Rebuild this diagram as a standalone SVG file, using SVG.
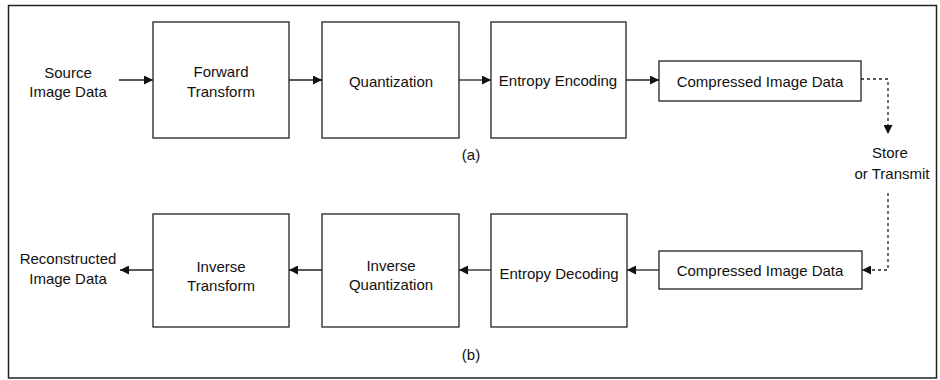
<svg xmlns="http://www.w3.org/2000/svg" width="940" height="380" viewBox="0 0 940 380">
<defs>
<marker id="ah" viewBox="0 0 10 10" refX="10" refY="5" markerWidth="9" markerHeight="9" markerUnits="userSpaceOnUse" orient="auto">
<path d="M0,0 L10,5 L0,10 z" fill="#111"/>
</marker>
<style>
.box{fill:#fff;stroke:#222;stroke-width:1.3}
.t{font-family:"Liberation Sans",Arial,sans-serif;font-size:15px;fill:#111;text-anchor:middle}
.ln{stroke:#222;stroke-width:1.3;fill:none}
.dl{stroke:#222;stroke-width:1.3;fill:none;stroke-dasharray:3 3}
</style>
</defs>
<rect x="0" y="0" width="940" height="380" fill="#fff"/>
<rect x="8.5" y="5.5" width="928" height="372.5" fill="none" stroke="#222" stroke-width="1.5"/>

<g id="src"><text class="t" x="68" y="78">Source</text><text class="t" x="68" y="97">Image Data</text></g>
<g id="fwd"><rect class="box" x="153" y="22" width="136" height="116"/><text class="t" x="221" y="77">Forward</text><text class="t" x="221" y="97">Transform</text></g>
<g id="quant"><rect class="box" x="322" y="22" width="137" height="116"/><text class="t" x="391" y="87">Quantization</text></g>
<g id="enc"><rect class="box" x="491" y="22" width="135" height="116"/><text class="t" x="558" y="86">Entropy Encoding</text></g>
<g id="cid1"><rect class="box" x="659" y="61" width="202" height="40"/><text class="t" x="760" y="87">Compressed Image Data</text></g>
<g id="lbla"><text class="t" x="471" y="160">(a)</text></g>
<g id="store"><text class="t" x="890" y="158">Store</text><text class="t" x="892" y="179">or Transmit</text></g>

<g id="rec"><text class="t" x="68" y="264">Reconstructed</text><text class="t" x="68" y="284">Image Data</text></g>
<g id="inv"><rect class="box" x="153" y="214" width="136" height="113"/><text class="t" x="221" y="272">Inverse</text><text class="t" x="221" y="291">Transform</text></g>
<g id="iquant"><rect class="box" x="322" y="214" width="137" height="113"/><text class="t" x="391" y="271">Inverse</text><text class="t" x="391" y="290">Quantization</text></g>
<g id="dec"><rect class="box" x="491" y="214" width="136" height="113"/><text class="t" x="559" y="279">Entropy Decoding</text></g>
<g id="cid2"><rect class="box" x="659" y="251" width="203" height="38"/><text class="t" x="760" y="276">Compressed Image Data</text></g>
<g id="lblb"><text class="t" x="471" y="360">(b)</text></g>

<g id="connectors">
<line class="ln" x1="119" y1="80" x2="153" y2="80" marker-end="url(#ah)"/>
<line class="ln" x1="289" y1="80" x2="322" y2="80" marker-end="url(#ah)"/>
<line class="ln" x1="459" y1="80" x2="491" y2="80" marker-end="url(#ah)"/>
<line class="ln" x1="626" y1="80" x2="659" y2="80" marker-end="url(#ah)"/>
<path class="dl" d="M861,79 H888 V134" marker-end="url(#ah)"/>
<path class="dl" d="M888,193 V270 H862" marker-end="url(#ah)"/>
<line class="ln" x1="659" y1="270" x2="627" y2="270" marker-end="url(#ah)"/>
<line class="ln" x1="491" y1="270" x2="459" y2="270" marker-end="url(#ah)"/>
<line class="ln" x1="322" y1="270" x2="289" y2="270" marker-end="url(#ah)"/>
<line class="ln" x1="153" y1="270" x2="120" y2="270" marker-end="url(#ah)"/>
</g>
</svg>
